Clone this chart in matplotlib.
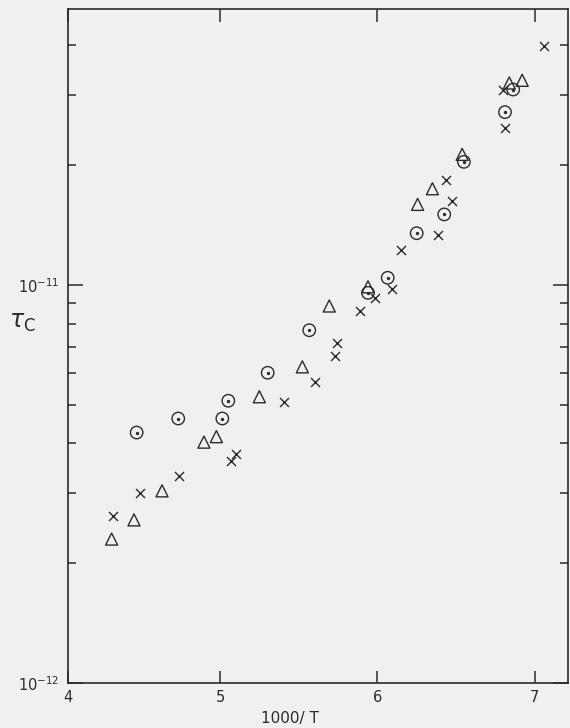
import matplotlib
matplotlib.use("Agg")
import matplotlib.pyplot as plt
from matplotlib.ticker import FixedLocator, NullLocator, NullFormatter

# ---- data ----
circ_x = [4.471, 4.735, 5.015, 5.053, 5.303, 5.567, 5.940, 6.065, 6.249, 6.424, 6.549, 6.810, 6.862]
circ_y = [4.26e-12, 4.62e-12, 4.62e-12, 5.12e-12, 6.02e-12, 7.70e-12, 9.56e-12, 1.043e-11,
          1.35e-11, 1.505e-11, 2.04e-11, 2.72e-11, 3.10e-11]

tri_x = [4.312, 4.454, 4.632, 4.898, 4.977, 5.250, 5.523, 5.694, 5.940, 6.255, 6.349, 6.538, 6.837, 6.919]
tri_y = [2.30e-12, 2.57e-12, 3.04e-12, 4.03e-12, 4.16e-12, 5.24e-12, 6.23e-12, 8.86e-12,
         9.90e-12, 1.595e-11, 1.746e-11, 2.13e-11, 3.22e-11, 3.27e-11]

cross_x = [4.319, 4.492, 4.740, 5.068, 5.100, 5.406, 5.603, 5.730, 5.743, 5.889, 5.984, 6.090,
           6.147, 6.384, 6.472, 6.435, 6.795, 6.811, 7.057]
cross_y = [2.63e-12, 3.00e-12, 3.32e-12, 3.62e-12, 3.76e-12, 5.07e-12, 5.71e-12, 6.64e-12,
           7.14e-12, 8.60e-12, 9.26e-12, 9.75e-12, 1.224e-11, 1.335e-11, 1.63e-11, 1.836e-11,
           3.09e-11, 2.48e-11, 3.99e-11]

x_ticks = [4.035, 5, 6, 7]
x_ticklabels = ["4", "5", "6", "7"]
y_major = [1e-12, 1e-11]
y_major_labels = [r"$\mathregular{10^{-12}}$", r"$\mathregular{10^{-11}}$"]
y_minor = [2e-12, 3e-12, 4e-12, 5e-12, 6e-12, 7e-12, 8e-12, 9e-12, 2e-11, 3e-11, 4e-11]

BG = "#f0f0f0"
INK = "#2b2b2b"

plt.rcParams["font.family"] = ["DejaVu Sans"]
plt.rcParams["mathtext.fontset"] = "dejavusans"

fig = plt.figure(figsize=(5.70, 7.28), dpi=100, facecolor=BG)
ax = fig.add_axes([68 / 570, 45 / 728, 500 / 570, 674 / 728], facecolor=BG)

ax.set_yscale("log")
ax.set_xlim(4.035, 7.21)
ax.set_ylim(1e-12, 4.94e-11)

lw = 1.0
ax.scatter(circ_x, circ_y, s=80, facecolors="none", edgecolors=INK, linewidths=lw, marker="o", zorder=3)
ax.scatter(circ_x, circ_y, s=2, color=INK, marker="o", zorder=3)
ax.scatter(tri_x, tri_y, s=75, facecolors="none", edgecolors=INK, linewidths=lw, marker="^", zorder=3)
ax.scatter(cross_x, cross_y, s=42, color=INK, linewidths=lw, marker="x", zorder=3)

for sp in ax.spines.values():
    sp.set_color(INK)
    sp.set_linewidth(1.2)

ax.xaxis.set_major_locator(FixedLocator(x_ticks))
ax.set_xticklabels(x_ticklabels)
ax.xaxis.set_minor_locator(NullLocator())
ax.yaxis.set_major_locator(FixedLocator(y_major))
ax.set_yticklabels(y_major_labels)
ax.yaxis.set_minor_locator(FixedLocator(y_minor))
ax.yaxis.set_minor_formatter(NullFormatter())

ax.tick_params(axis="both", which="both", direction="in", colors=INK, labelcolor=INK,
               top=True, right=True, labelsize=10.5)
ax.tick_params(axis="x", which="major", length=9, width=1.1, pad=5)
ax.tick_params(axis="y", which="major", length=11, width=1.1, pad=6)
ax.tick_params(axis="y", which="minor", length=6, width=1.1)

fig.text(290 / 570, 1 - 719 / 728, "1000/ T", ha="center", va="center", fontsize=11, color=INK)
fig.text(22 / 570, 1 - 322 / 728, r"$\tau_{\rm C}$", ha="center", va="center", fontsize=17, color=INK)

fig.savefig("out.png", dpi=100, facecolor=BG)
